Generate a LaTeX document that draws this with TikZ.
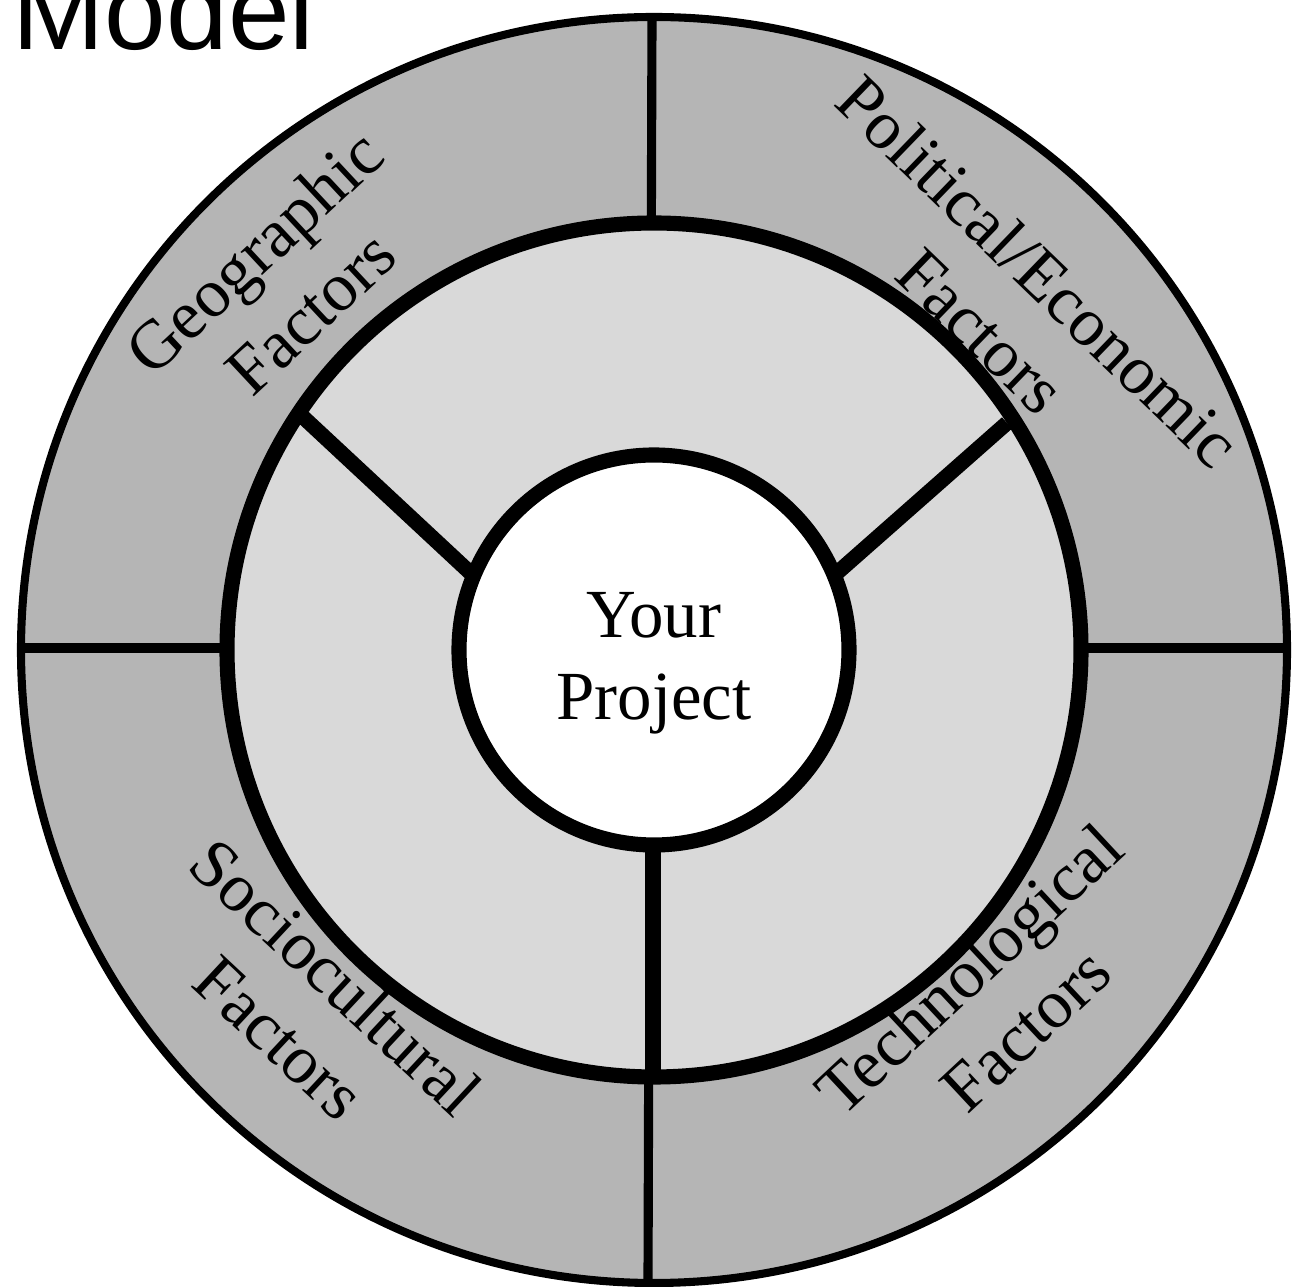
\documentclass[tikz,border=0pt]{standalone}
\usepackage{fontspec}
\setmainfont{Liberation Serif}
\newfontfamily\titlefont{Liberation Sans}
\definecolor{outerring}{gray}{0.71}
\definecolor{midring}{gray}{0.85}
\begin{document}
\begin{tikzpicture}[
  ring/.style={line width=2.3pt},
  divider/.style={line width=2.6pt},
  spoke/.style={line width=4.3pt},
  factor/.style={font=\fontsize{19.6}{23.5}\selectfont, align=center, inner sep=0pt}
]
  % Rahmen
  \useasboundingbox (0,0) rectangle (13.07,12.87);
  \clip (0,0) rectangle (13.07,12.87);
  % Mittelpunkt
  \coordinate (C) at (6.54,6.37);
  % aeusserer Ring
  \draw[ring, fill=outerring] (C) circle (6.33);
  \coordinate (N) at (6.52,12.70);
  \coordinate (S) at (6.48,0.04);
  \coordinate (W) at (0.22,6.39);
  \coordinate (E) at (12.89,6.39);
  \draw[divider] (N) -- (S);
  \draw[divider] (W) -- (E);
  % mittlerer Ring
  \draw[spoke, fill=midring] (C) circle (4.27);
  \coordinate (geo) at (3.03,8.70);
  \coordinate (geoin) at (4.78,7.07);
  \coordinate (pol) at (10.07,8.64);
  \coordinate (polin) at (8.29,7.07);
  \coordinate (bot) at (6.53,2.09);
  \coordinate (botin) at (6.53,4.60);
  \draw[spoke] (geo) -- (geoin);
  \draw[spoke] (pol) -- (polin);
  \draw[spoke] (bot) -- (botin);
  % Kern
  \node[draw, spoke, circle, fill=white, minimum size=3.9cm, inner sep=0pt] (core) at (C) {};
  \node[factor, font=\fontsize{19.6}{23.3}\selectfont] (proj) at (6.54,6.24) {Your\\Project};
  % Beschriftungen
  \node[factor, rotate=43] (geolabel) at (2.82,10.05) {Geographic\\Factors};
  \node[factor, rotate=-44] (pollabel) at (10.10,9.86) {Political/Economic\\Factors};
  \node[factor, rotate=-43] (soclabel) at (3.08,2.80) {Sociocultural\\Factors};
  \node[factor, rotate=43] (techlabel) at (9.97,2.88) {Technological\\Factors};
  % Titel
  \node[anchor=base west, inner sep=0pt, font=\titlefont\fontsize{31.5}{36}\selectfont] (title) at (0.12,12.37) {Model};
\end{tikzpicture}
\end{document}
